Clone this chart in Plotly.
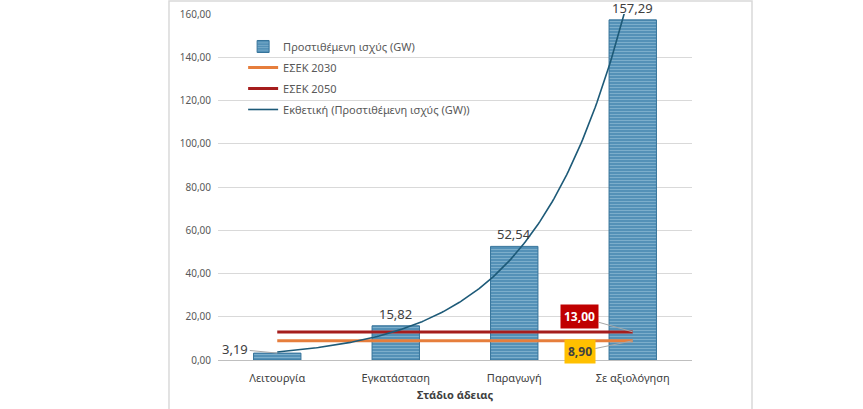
import numpy as np
import plotly.graph_objects as go

# data
stages = ["Λειτουργία", "Εγκατάσταση", "Παραγωγή", "Σε αξιολόγηση"]
capacity_gw = [3.19, 15.82, 52.54, 157.29]
esek_2030 = 8.90
esek_2050 = 13.00

pos = np.arange(len(stages))

# Excel-style exponential trendline: ln(y) = ln(a) + b*x, x = 1..n
b, ln_a = np.polyfit(pos + 1, np.log(capacity_gw), 1)
xs = np.linspace(pos[0], pos[-1], 200)
trend = np.exp(ln_a) * np.exp(b * (xs + 1))

fig = go.Figure()

fig.add_trace(go.Bar(
    x=pos, y=capacity_gw, width=0.4,
    name="Προστιθέμενη ισχύς (GW)", legendgroup="bar",
    marker=dict(
        color="#5594ba",
        line=dict(color="#35739a", width=1),
        pattern=dict(shape="-", fgcolor="#a9cfe2", bgcolor="#4f8db4",
                     size=3, solidity=0.4),
    ),
))
fig.add_trace(go.Scatter(
    x=[pos[0], pos[-1]], y=[esek_2030, esek_2030], mode="lines",
    name="ΕΣΕΚ 2030", legendgroup="e2030",
    line=dict(color="#e67e3c", width=3),
))
fig.add_trace(go.Scatter(
    x=[pos[0], pos[-1]], y=[esek_2050, esek_2050], mode="lines",
    name="ΕΣΕΚ 2050", legendgroup="e2050",
    line=dict(color="#a51d1d", width=3),
))
fig.add_trace(go.Scatter(
    x=xs, y=trend, mode="lines",
    name="Εκθετική (Προστιθέμενη ισχύς (GW))", legendgroup="trend",
    line=dict(color="#1d5a78", width=1.6),
))

# value labels
for i, v in enumerate(capacity_gw):
    label = f"{v:.2f}".replace(".", ",")
    if i == 0:
        fig.add_annotation(x=pos[i], y=v, text=label, showarrow=True,
                           ax=-42, ay=-4, arrowhead=0, arrowwidth=1,
                           arrowcolor="#a6a6a6",
                           font=dict(size=13, color="#404040"))
    else:
        fig.add_annotation(x=pos[i], y=v, text=label, showarrow=False,
                           yanchor="bottom", yshift=1,
                           font=dict(size=13, color="#404040"))

fig.add_annotation(x=pos[-1], y=esek_2050, text="<b>13,00</b>",
                   showarrow=True, ax=-53, ay=-15, arrowhead=0,
                   arrowwidth=1, arrowcolor="#a6a6a6",
                   bgcolor="#c00000", borderpad=3,
                   font=dict(size=12, color="white"))
fig.add_annotation(x=pos[-1], y=esek_2030, text="<b>8,90</b>",
                   showarrow=True, ax=-53, ay=11, arrowhead=0,
                   arrowwidth=1, arrowcolor="#a6a6a6",
                   bgcolor="#ffc000", borderpad=3,
                   font=dict(size=12, color="#404040"))

# light frame around the chart area
fig.add_shape(type="rect", xref="paper", yref="paper",
              x0=-0.1034, x1=1.1266, y0=-0.25, y1=1.0376,
              line=dict(color="#d9d9d9", width=1.5), layer="below")

fig.update_layout(
    width=863, height=409,
    margin=dict(l=218, r=171, t=14, b=49),
    paper_bgcolor="white", plot_bgcolor="white",
    separators=",.",
    font=dict(family="Noto Sans", color="#595959"),
    showlegend=True,
    legend=dict(x=0.053, y=0.948, xanchor="left", yanchor="top",
                bgcolor="rgba(0,0,0,0)", font=dict(size=11, color="#595959"),
                tracegroupgap=2),
    bargap=0.6,
)
fig.update_xaxes(
    tickvals=pos, ticktext=stages, range=[-0.5, len(stages) - 0.5],
    showgrid=False, showline=False, ticks="", automargin=False,
    ticklabelstandoff=10,
    tickfont=dict(size=11, color="#404040"),
    title=dict(text="<b>Στάδιο άδειας</b>", font=dict(size=11, color="#404040"),
               standoff=7),
)
fig.update_yaxes(
    range=[0, 160], dtick=20, tickformat=".2f", automargin=False,
    ticklabeloverflow="allow", ticklabelstandoff=6,
    showgrid=True, gridcolor="#d9d9d9", gridwidth=1,
    zeroline=True, zerolinecolor="#bfbfbf", zerolinewidth=1,
    tickfont=dict(size=10, color="#595959"), ticks="",
)

fig.write_html("out.html", config={"displayModeBar": False},
               post_script="document.body.style.margin='0';")
